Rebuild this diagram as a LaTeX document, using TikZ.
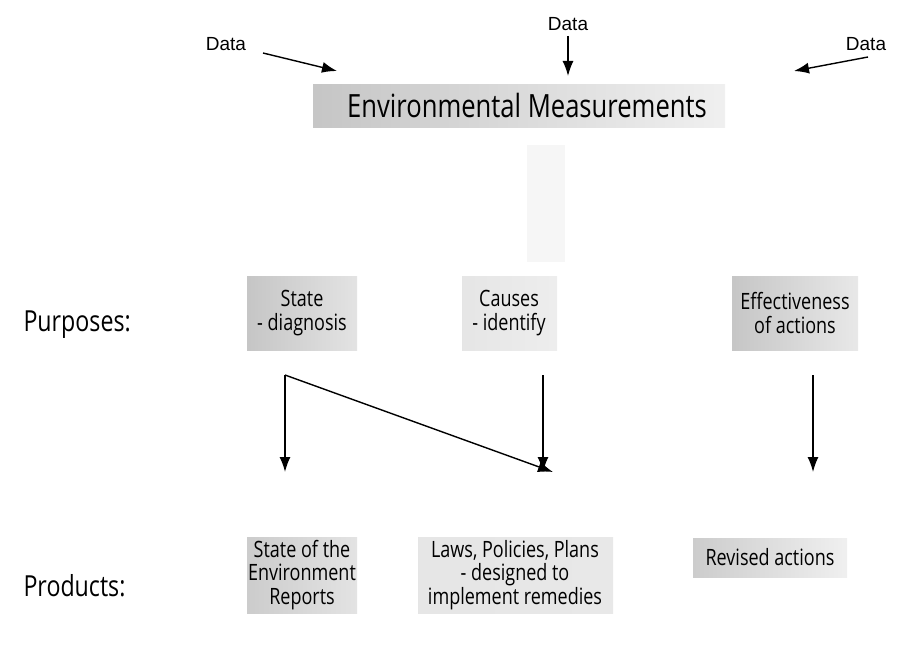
\documentclass[tikz,border=0pt]{standalone}
\usepackage{fontspec}
\setmainfont{Liberation Sans}
\newfontfamily\condf[FakeStretch=0.8]{Open Sans}
\usetikzlibrary{arrows.meta,shadings}
\begin{document}
\begin{tikzpicture}[x=1pt,y=-1pt,
  box/.style={inner sep=0pt, align=center, font=\condf\fontsize{22.5}{23.5}\selectfont},
  lbl/.style={font=\condf\fontsize{29}{31}\selectfont, anchor=west},
  dat/.style={font=\fontsize{19}{21}\selectfont},
  arr/.style={-{Latex[length=15pt,width=11pt]}, line width=1.4pt},
  ln/.style={line width=1.4pt}]
\useasboundingbox (0,0) rectangle (915,647);
% shaded boxes
\shade[left color=gray!45, right color=gray!12] (313,85) rectangle (725,128);
\fill[gray!7] (527,145) rectangle (565,262);
\shade[left color=gray!45, right color=gray!22] (247,276) rectangle (357,350);
\shade[left color=gray!20, right color=gray!14] (462,276) rectangle (557,350);
\shade[left color=gray!45, right color=gray!18] (732,276) rectangle (858,350);
\shade[left color=gray!40, right color=gray!22] (247,537) rectangle (357,613);
\shade[left color=gray!20, right color=gray!18] (418,537) rectangle (613,613);
\shade[left color=gray!40, right color=gray!12] (693,538) rectangle (847,577);
% nodes
\node[box, font=\condf\fontsize{32}{34}\selectfont] (em) at (527,106) {Environmental Measurements};
\node[dat] (d1) at (226,44) {Data};
\node[dat] (d2) at (568,24) {Data};
\node[dat] (d3) at (866,44) {Data};
\coordinate (d1e) at (337,71);
\coordinate (d2e) at (568,76);
\coordinate (d3e) at (794,71);
\coordinate (d1s) at (263,53);
\coordinate (d2s) at (568,36);
\coordinate (d3s) at (868,57);
\node[lbl] (purp) at (20,325) {Purposes:};
\node[lbl] (prod) at (20,586) {Products:};
\node[box] (state) at (302,313) {State\\- diagnosis};
\node[box] (causes) at (509,313) {Causes\\- identify};
\node[box] (eff) at (795,313) {Effectiveness\\of actions};
\node[box] (soe) at (302,575) {State of the\\Environment\\Reports};
\node[box] (laws) at (515,575) {Laws, Policies, Plans\\- designed to\\implement remedies};
\node[box] (rev) at (770,557) {Revised actions};
% connectors
\coordinate (s0) at (285,375);
\coordinate (s1) at (285,472);
\coordinate (s2) at (553,472);
\coordinate (c0) at (543,375);
\coordinate (c1) at (543,472);
\coordinate (e0) at (813,375);
\coordinate (e1) at (813,472);
\draw[arr] (d1s) -- (d1e);
\draw[arr] (d2s) -- (d2e);
\draw[arr] (d3s) -- (d3e);
\draw[arr] (s0) -- (s1);
\draw[arr] (s0) -- (s2);
\draw[arr] (c0) -- (c1);
\draw[arr] (e0) -- (e1);
\end{tikzpicture}
\end{document}
